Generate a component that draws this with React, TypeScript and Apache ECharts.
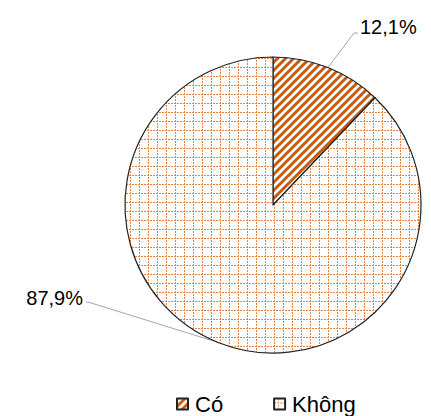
import React, { useEffect, useRef } from "react";
import * as echarts from "echarts";

const categories = ["Có", "Không"];
const values = [12.1, 87.9];
const labelTexts = ["12,1%", "87,9%"];

function stripePattern(): HTMLCanvasElement {
  const c = document.createElement("canvas");
  c.width = 8;
  c.height = 8;
  const ctx = c.getContext("2d")!;
  ctx.fillStyle = "#ffffff";
  ctx.fillRect(0, 0, 8, 8);
  ctx.strokeStyle = "#C55A11";
  ctx.lineWidth = 3;
  ctx.lineCap = "square";
  for (let k = -1; k <= 1; k++) {
    ctx.beginPath();
    ctx.moveTo(k * 8 - 2, 10);
    ctx.lineTo(k * 8 + 10, -2);
    ctx.stroke();
  }
  return c;
}

function gridPattern(): HTMLCanvasElement {
  const c = document.createElement("canvas");
  c.width = 9;
  c.height = 9;
  const ctx = c.getContext("2d")!;
  ctx.fillStyle = "#ffffff";
  ctx.fillRect(0, 0, 9, 9);
  ctx.fillStyle = "#E8833F";
  for (let i = 0; i < 9; i += 3) {
    ctx.fillRect(4, i, 1, 2);
    ctx.fillRect(i, 4, 2, 1);
  }
  return c;
}

export default function App() {
  const ref = useRef<HTMLDivElement>(null);
  useEffect(() => {
    document.body.style.margin = "0";
    const chart = echarts.init(ref.current!, undefined, { renderer: "svg" });
    const patterns = [stripePattern(), gridPattern()];
    chart.setOption({
      animation: false,
      backgroundColor: "#ffffff",
      legend: {
        top: 388,
        left: 171,
        itemWidth: 11,
        itemHeight: 11,
        itemGap: 50,
        icon: "rect",
        textStyle: { fontFamily: "Liberation Sans", fontSize: 22, color: "#000", padding: [0, 0, 0, 2] },
        data: categories,
      },
      series: [
        {
          type: "pie",
          center: [273, 205],
          radius: 148,
          startAngle: 90,
          clockwise: true,
          data: categories.map((name, i) => ({
            name,
            value: values[i],
            itemStyle: {
              color: { image: patterns[i], repeat: "repeat", imageWidth: patterns[i].width, imageHeight: patterns[i].height },
              borderColor: "#222222",
              borderWidth: 1.2,
            },
          })),
          label: {
            show: true,
            position: "outside",
            formatter: (p: any) => labelTexts[p.dataIndex],
            fontFamily: "Liberation Sans",
            fontSize: 20,
            color: "#000",
          },
          labelLine: {
            show: true,
            length: 20,
            length2: 10,
            lineStyle: { color: "#a6a6a6", width: 1 },
          },
          labelLayout: (params: any) => {
            const start = params.labelLinePoints ? params.labelLinePoints[0] : [0, 0];
            if (params.dataIndex === 0) {
              return {
                x: 360,
                y: 27,
                align: "left",
                verticalAlign: "middle",
                labelLinePoints: [start, [354, 33], [358, 33]],
              };
            }
            return {
              x: 83,
              y: 298,
              align: "right",
              verticalAlign: "middle",
              labelLinePoints: [start, [88, 302], [86, 302]],
            };
          },
          emphasis: { disabled: true },
        },
      ],
    });
    return () => chart.dispose();
  }, []);
  return <div ref={ref} style={{ position: "fixed", left: 0, top: 0, width: 431, height: 416 }} />;
}
